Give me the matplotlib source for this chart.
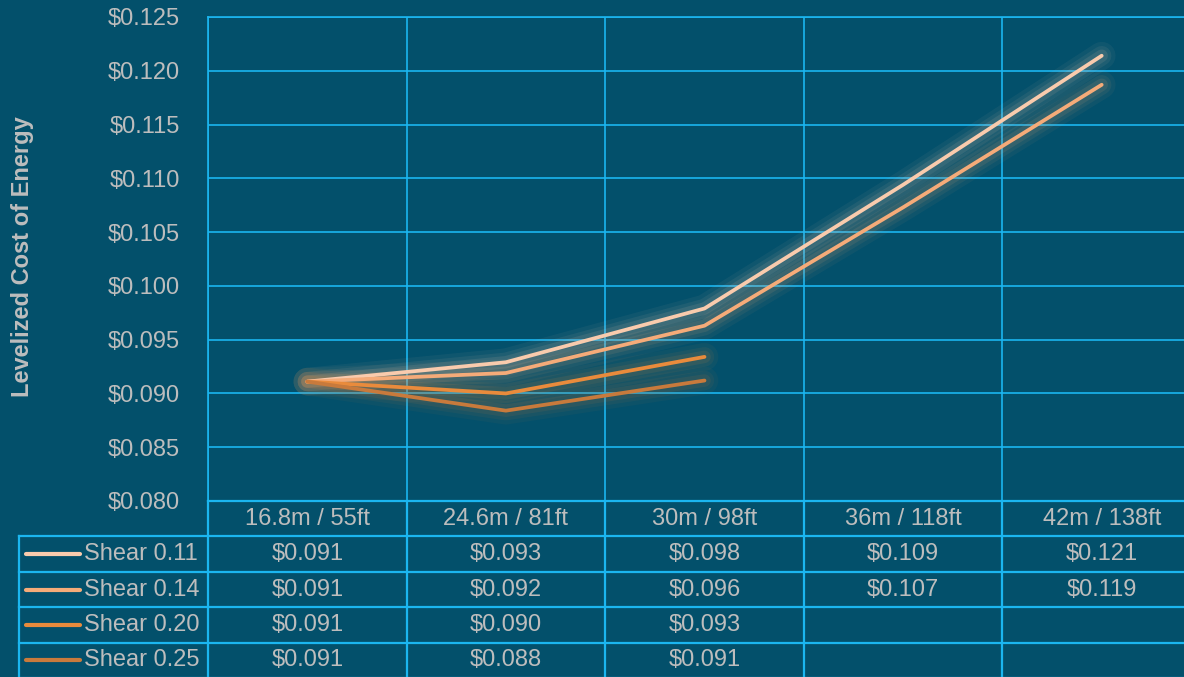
import matplotlib.pyplot as plt
import numpy as np

plt.rcParams['font.family'] = ['Liberation Sans', 'DejaVu Sans']

heights = ["16.8m / 55ft", "24.6m / 81ft", "30m / 98ft", "36m / 118ft", "42m / 138ft"]
shear_names = ["Shear 0.11", "Shear 0.14", "Shear 0.20", "Shear 0.25"]
shear_011 = [0.0911, 0.0929, 0.0979, 0.1094, 0.1214]
shear_014 = [0.0911, 0.0919, 0.0963, 0.1073, 0.1187]
shear_020 = [0.0911, 0.0900, 0.0934]
shear_025 = [0.0911, 0.0884, 0.0912]
series = [shear_011, shear_014, shear_020, shear_025]
colors = ["#f9cbad", "#f5ab79", "#e98b3c", "#c87a3c"]

bg = "#03506b"
gridc = "#1bb6f0"
txt = "#bdbdbd"
fs = 17

fig = plt.figure(figsize=(11.84, 6.77), dpi=100, facecolor=bg)

# main plot area, right column runs off the edge of the figure
ax = fig.add_axes([208/1184, 1-501/677, 993/1184, 484/677], facecolor=bg)
ax.set_xlim(-0.5, 4.5)
ax.set_ylim(0.080, 0.125)
ax.set_yticks(np.arange(0.080, 0.1251, 0.005))
ax.set_yticklabels(["${:.3f}".format(v) for v in np.arange(0.080, 0.1251, 0.005)])
ax.set_xticks(np.arange(-0.5, 4.6, 1.0))
ax.set_xticklabels([])
ax.tick_params(length=0, labelsize=fs, labelcolor=txt, pad=20)
ax.grid(True, color=gridc, linewidth=1.2)
for s in ax.spines.values():
    s.set_color(gridc)
    s.set_linewidth(1.2)
ax.set_axisbelow(True)

for vals, c in zip(series, colors):
    x = np.arange(len(vals))
    # soft glow under each line
    for lw, a in [(20, 0.05), (14, 0.07), (9, 0.10)]:
        ax.plot(x, vals, color=c, lw=lw, alpha=a, solid_capstyle='round', solid_joinstyle='round')
for vals, c in zip(series, colors):
    x = np.arange(len(vals))
    ax.plot(x, vals, color=c, lw=2.7, solid_capstyle='round', solid_joinstyle='round', zorder=5)

fig.text(23/1184, 1-257/677, "Levelized Cost of Energy", rotation=90, ha='center', va='center',
         fontsize=fs, fontweight='bold', color=txt)

# data table under the chart
tb = fig.add_axes([208/1184, 1-678/677, 993/1184, 177/677])
tb.set_xlim(-0.5, 4.5)
tb.set_ylim(5, 0)
tb.axis('off')
left = -0.5 - 189/198.6
lkw = dict(color=gridc, lw=1.6, clip_on=False)
for r in range(1, 6):
    tb.plot([left, 4.5], [r, r], **lkw)
tb.plot([-0.5, 4.5], [0, 0], **lkw)
for c in np.arange(-0.5, 4.6, 1.0):
    tb.plot([c, c], [0, 5], **lkw)
tb.plot([left, left], [1, 5], **lkw)

for i, h in enumerate(heights):
    tb.text(i, 0.5, h, ha='center', va='center', fontsize=fs, color=txt)
for r, (name, vals, c) in enumerate(zip(shear_names, series, colors)):
    y = r + 1.5
    tb.plot([left + 7/198.6, left + 61/198.6], [y, y], color=c, lw=3, solid_capstyle='round', clip_on=False)
    tb.text(left + 65/198.6, y, name, ha='left', va='center', fontsize=fs, color=txt)
    for i, v in enumerate(vals):
        tb.text(i, y, "${:.3f}".format(v), ha='center', va='center', fontsize=fs, color=txt)

fig.savefig("out.png", dpi=100, facecolor=bg)
